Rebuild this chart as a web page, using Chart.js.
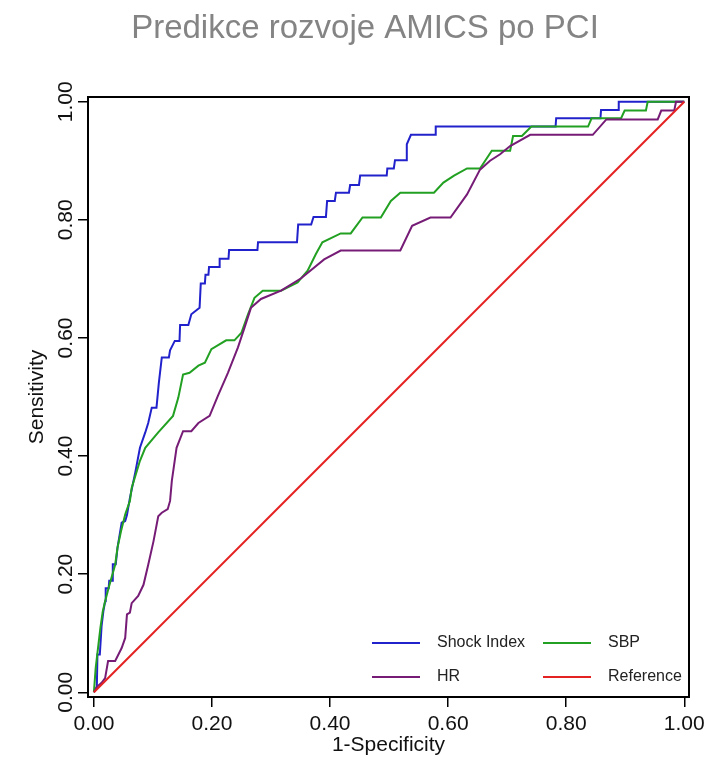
<!DOCTYPE html>
<html>
<head>
<meta charset="utf-8">
<title>Predikce rozvoje AMICS po PCI</title>
<script src="https://cdn.jsdelivr.net/npm/chart.js@4.4.1/dist/chart.umd.min.js"></script>
<style>
  html, body { margin: 0; padding: 0; background: #fff; }
  #wrap { position: relative; width: 714px; height: 761px; }
</style>
</head>
<body>
<div id="wrap"><canvas id="roc"></canvas></div>
<script>
var TITLE = 'Predikce rozvoje AMICS po PCI';
var X_TITLE = '1-Specificity';
var Y_TITLE = 'Sensitivity';
var AXIS_TICKS = [0, 0.2, 0.4, 0.6, 0.8, 1];

var SERIES_NAMES = ['Shock Index', 'SBP', 'HR', 'Reference'];
var SERIES_COLORS = ['#2222cc', '#22a022', '#761c76', '#e42222'];

// ROC points: x = 1-specificity, y = sensitivity
var siFpr = [0, 0.005, 0.006, 0.010, 0.013, 0.016, 0.019, 0.020, 0.025, 0.026, 0.031, 0.032, 0.037, 0.040,
  0.047, 0.053, 0.056, 0.061, 0.070, 0.078, 0.087, 0.092, 0.098, 0.106, 0.110, 0.115, 0.127, 0.129,
  0.137, 0.145, 0.146, 0.160, 0.165, 0.179, 0.181, 0.188, 0.189, 0.194, 0.195, 0.212, 0.213, 0.228,
  0.229, 0.277, 0.278, 0.344, 0.346, 0.368, 0.372, 0.393, 0.395, 0.408, 0.410, 0.432, 0.434, 0.449,
  0.451, 0.496, 0.497, 0.508, 0.510, 0.529, 0.530, 0.537, 0.578, 0.579, 0.782, 0.783, 0.858, 0.859,
  0.888, 0.889, 1];
var siTpr = [0, 0.010, 0.064, 0.064, 0.112, 0.137, 0.154, 0.176, 0.176, 0.189, 0.189, 0.217, 0.217, 0.245,
  0.287, 0.290, 0.300, 0.329, 0.372, 0.414, 0.440, 0.456, 0.482, 0.482, 0.524, 0.567, 0.567, 0.579,
  0.595, 0.595, 0.622, 0.622, 0.640, 0.651, 0.692, 0.692, 0.707, 0.707, 0.720, 0.720, 0.734, 0.734,
  0.749, 0.749, 0.762, 0.762, 0.792, 0.792, 0.805, 0.805, 0.832, 0.832, 0.846, 0.846, 0.859, 0.859,
  0.875, 0.875, 0.887, 0.887, 0.901, 0.901, 0.928, 0.944, 0.944, 0.958, 0.958, 0.972, 0.972, 0.986,
  0.986, 1, 1];

var sbpFpr = [0, 0.003, 0.007, 0.011, 0.015, 0.019, 0.025, 0.036, 0.040, 0.046, 0.053, 0.061, 0.064, 0.078,
  0.087, 0.109, 0.134, 0.143, 0.151, 0.162, 0.177, 0.188, 0.199, 0.224, 0.238, 0.250, 0.261, 0.272,
  0.286, 0.317, 0.345, 0.362, 0.376, 0.387, 0.418, 0.435, 0.455, 0.486, 0.503, 0.519, 0.576, 0.592,
  0.610, 0.632, 0.654, 0.674, 0.705, 0.710, 0.725, 0.741, 0.837, 0.843, 0.893, 0.899, 0.935, 0.938, 1];
var sbpTpr = [0, 0.041, 0.075, 0.109, 0.137, 0.154, 0.177, 0.216, 0.245, 0.273, 0.301, 0.324, 0.346, 0.392,
  0.414, 0.440, 0.468, 0.499, 0.538, 0.541, 0.553, 0.558, 0.581, 0.596, 0.596, 0.609, 0.640, 0.668,
  0.680, 0.680, 0.694, 0.714, 0.742, 0.762, 0.777, 0.777, 0.804, 0.804, 0.832, 0.846, 0.846, 0.863,
  0.875, 0.887, 0.887, 0.917, 0.917, 0.942, 0.942, 0.958, 0.958, 0.972, 0.972, 0.985, 0.985, 1, 1];

var hrFpr = [0, 0.006, 0.013, 0.019, 0.024, 0.036, 0.047, 0.053, 0.056, 0.061, 0.064, 0.075, 0.084, 0.092,
  0.101, 0.109, 0.115, 0.125, 0.129, 0.132, 0.140, 0.151, 0.165, 0.177, 0.196, 0.210, 0.227, 0.244,
  0.255, 0.266, 0.283, 0.317, 0.351, 0.390, 0.418, 0.519, 0.539, 0.570, 0.604, 0.632, 0.654, 0.671,
  0.688, 0.705, 0.739, 0.845, 0.868, 0.955, 0.961, 0.983, 0.986, 1];
var hrTpr = [0, 0.010, 0.016, 0.024, 0.053, 0.053, 0.075, 0.092, 0.132, 0.135, 0.151, 0.163, 0.182, 0.216,
  0.256, 0.298, 0.304, 0.310, 0.324, 0.358, 0.414, 0.442, 0.442, 0.456, 0.468, 0.502, 0.541, 0.584,
  0.617, 0.651, 0.666, 0.680, 0.701, 0.733, 0.748, 0.748, 0.790, 0.804, 0.804, 0.843, 0.885, 0.900,
  0.911, 0.925, 0.944, 0.944, 0.970, 0.970, 0.985, 0.985, 1, 1];

var refFpr = [0, 1];
var refTpr = [0, 1];

var FONT = "'Liberation Sans', Arial, sans-serif";

function toPoints(xs, ys) {
  return xs.map(function (x, i) { return { x: x, y: ys[i] }; });
}

function lineSet(idx, xs, ys, order) {
  return {
    label: SERIES_NAMES[idx],
    data: toPoints(xs, ys),
    showLine: true,
    borderColor: SERIES_COLORS[idx],
    backgroundColor: SERIES_COLORS[idx],
    borderWidth: 2,
    pointRadius: 0,
    tension: 0,
    order: order,
  };
}

function fixedTicks(scale) {
  scale.ticks = AXIS_TICKS.map(function (v) { return { value: v }; });
}

// frame, rotated y labels, title and the in-plot legend
var decor = {
  id: 'decor',
  afterDraw: function (chart) {
    var ctx = chart.ctx;
    var a = chart.chartArea;
    var ys = chart.scales.y;
    ctx.save();
    ctx.strokeStyle = '#000';
    ctx.lineWidth = 2;
    ctx.strokeRect(a.left, a.top, a.right - a.left, a.bottom - a.top);

    ctx.fillStyle = '#111';
    ctx.font = '21px ' + FONT;
    ctx.textAlign = 'center';
    ctx.textBaseline = 'middle';
    AXIS_TICKS.forEach(function (v) {
      ctx.save();
      ctx.translate(66, ys.getPixelForValue(v));
      ctx.rotate(-Math.PI / 2);
      ctx.fillText(v.toFixed(2), 0, 0);
      ctx.restore();
    });

    ctx.fillStyle = '#848484';
    ctx.font = '33px ' + FONT;
    ctx.textBaseline = 'alphabetic';
    ctx.fillText(TITLE, 365, 38);

    ctx.font = '16px ' + FONT;
    ctx.textAlign = 'left';
    ctx.textBaseline = 'middle';
    ctx.fillStyle = '#222';
    var cols = [a.right - 317, a.right - 146];
    var rows = [a.bottom - 54, a.bottom - 20];
    SERIES_NAMES.forEach(function (name, i) {
      var x = cols[i % 2];
      var y = rows[Math.floor(i / 2)];
      ctx.strokeStyle = SERIES_COLORS[i];
      ctx.lineWidth = 2;
      ctx.beginPath();
      ctx.moveTo(x, y);
      ctx.lineTo(x + 48, y);
      ctx.stroke();
      ctx.fillText(name, x + 65, y);
    });
    ctx.restore();
  }
};

new Chart(document.getElementById('roc'), {
  type: 'scatter',
  data: {
    datasets: [
      lineSet(0, siFpr, siTpr, 4),
      lineSet(1, sbpFpr, sbpTpr, 3),
      lineSet(2, hrFpr, hrTpr, 2),
      lineSet(3, refFpr, refTpr, 1),
    ],
  },
  options: {
    responsive: true,
    maintainAspectRatio: false,
    animation: false,
    layout: { padding: { top: 97, right: 25, left: 0, bottom: 0 } },
    plugins: { legend: { display: false }, tooltip: { enabled: false }, title: { display: false } },
    scales: {
      x: {
        type: 'linear',
        min: -0.01,
        max: 1.008,
        afterBuildTicks: fixedTicks,
        afterFit: function (s) { s.height = 64; },
        border: { display: false },
        grid: { display: true, drawOnChartArea: false, drawTicks: true, tickLength: 10, color: '#000', lineWidth: 1.5 },
        ticks: {
          color: '#111', padding: 5, maxRotation: 0,
          font: { family: FONT, size: 21 },
          callback: function (v) { return Number(v).toFixed(2); },
        },
        title: { display: true, text: X_TITLE, color: '#111', font: { family: FONT, size: 21 }, padding: { top: 0, bottom: 3 } },
      },
      y: {
        type: 'linear',
        min: -0.008,
        max: 1.008,
        afterBuildTicks: fixedTicks,
        afterFit: function (s) { s.width = 88; },
        border: { display: false },
        grid: { display: true, drawOnChartArea: false, drawTicks: true, tickLength: 10, color: '#000', lineWidth: 1.5 },
        ticks: { display: false },
        title: { display: true, text: Y_TITLE, color: '#111', font: { family: FONT, size: 21 }, padding: { top: 25, bottom: 0 } },
      },
    },
  },
  plugins: [decor],
});
</script>
</body>
</html>
